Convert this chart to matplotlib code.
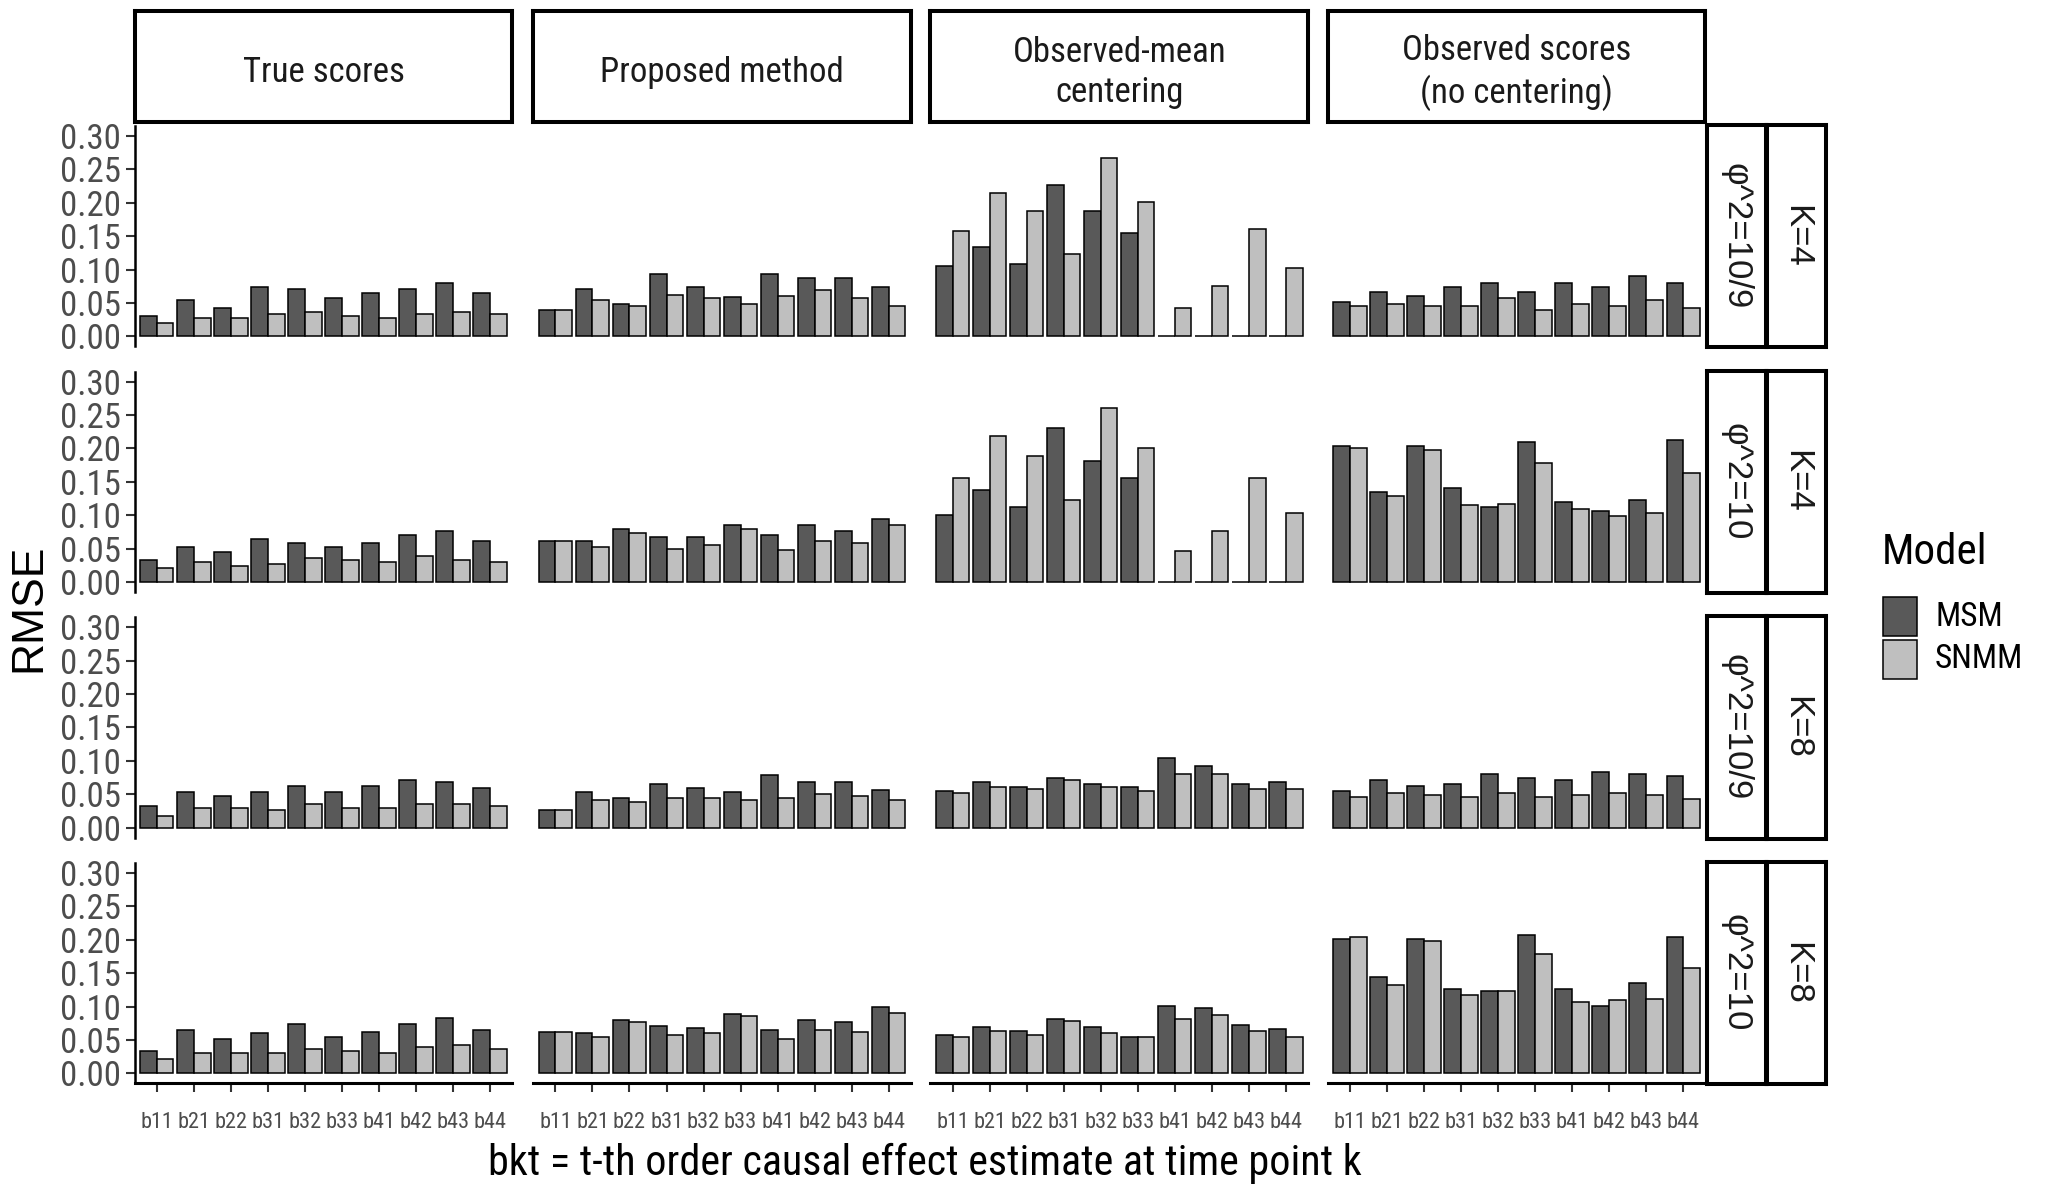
import matplotlib.pyplot as plt
from matplotlib.patches import Rectangle
import numpy as np

effects = ["b11", "b21", "b22", "b31", "b32", "b33", "b41", "b42", "b43", "b44"]
methods = ["True scores", "Proposed method", "Observed-mean\ncentering",
           "Observed scores\n(no centering)"]
phi_labels = ["φ^2=10/9", "φ^2=10", "φ^2=10/9", "φ^2=10"]
k_labels = ["K=4", "K=4", "K=8", "K=8"]
models = ["MSM", "SNMM"]

# row 1: K=4, phi^2=10/9
msm_true_1 = [0.030, 0.054, 0.042, 0.074, 0.071, 0.057, 0.065, 0.071, 0.080, 0.065]
snmm_true_1 = [0.020, 0.027, 0.027, 0.033, 0.036, 0.030, 0.027, 0.033, 0.036, 0.033]
msm_prop_1 = [0.039, 0.071, 0.048, 0.094, 0.074, 0.059, 0.094, 0.088, 0.088, 0.074]
snmm_prop_1 = [0.039, 0.054, 0.045, 0.062, 0.057, 0.048, 0.060, 0.069, 0.057, 0.045]
msm_mean_1 = [0.106, 0.134, 0.109, 0.227, 0.187, 0.155, 0.0, 0.0, 0.0, 0.0]
snmm_mean_1 = [0.157, 0.215, 0.187, 0.123, 0.267, 0.201, 0.042, 0.076, 0.160, 0.103]
msm_obs_1 = [0.051, 0.066, 0.060, 0.074, 0.080, 0.066, 0.080, 0.074, 0.091, 0.080]
snmm_obs_1 = [0.045, 0.048, 0.045, 0.045, 0.057, 0.039, 0.048, 0.045, 0.054, 0.042]

# row 2: K=4, phi^2=10
msm_true_2 = [0.033, 0.053, 0.045, 0.064, 0.059, 0.053, 0.059, 0.070, 0.076, 0.062]
snmm_true_2 = [0.021, 0.030, 0.024, 0.027, 0.036, 0.033, 0.030, 0.039, 0.033, 0.030]
msm_prop_2 = [0.062, 0.062, 0.079, 0.068, 0.068, 0.085, 0.070, 0.085, 0.076, 0.094]
snmm_prop_2 = [0.062, 0.053, 0.073, 0.050, 0.056, 0.079, 0.048, 0.062, 0.059, 0.085]
msm_mean_2 = [0.100, 0.138, 0.112, 0.230, 0.181, 0.155, 0.0, 0.0, 0.0, 0.0]
snmm_mean_2 = [0.155, 0.218, 0.189, 0.123, 0.261, 0.201, 0.046, 0.077, 0.155, 0.103]
msm_obs_2 = [0.204, 0.135, 0.204, 0.141, 0.112, 0.209, 0.120, 0.106, 0.123, 0.212]
snmm_obs_2 = [0.200, 0.129, 0.198, 0.115, 0.116, 0.178, 0.109, 0.098, 0.103, 0.163]

# row 3: K=8, phi^2=10/9
msm_true_3 = [0.033, 0.054, 0.048, 0.054, 0.062, 0.054, 0.062, 0.071, 0.068, 0.060]
snmm_true_3 = [0.018, 0.030, 0.030, 0.026, 0.036, 0.030, 0.030, 0.036, 0.036, 0.033]
msm_prop_3 = [0.027, 0.054, 0.045, 0.065, 0.060, 0.054, 0.079, 0.068, 0.068, 0.057]
snmm_prop_3 = [0.027, 0.042, 0.039, 0.045, 0.045, 0.042, 0.045, 0.051, 0.048, 0.042]
msm_mean_3 = [0.055, 0.069, 0.061, 0.075, 0.066, 0.061, 0.104, 0.092, 0.066, 0.069]
snmm_mean_3 = [0.052, 0.061, 0.058, 0.072, 0.061, 0.055, 0.080, 0.080, 0.058, 0.058]
msm_obs_3 = [0.055, 0.072, 0.063, 0.066, 0.080, 0.075, 0.072, 0.083, 0.080, 0.077]
snmm_obs_3 = [0.046, 0.052, 0.049, 0.046, 0.052, 0.046, 0.049, 0.052, 0.049, 0.043]

# row 4: K=8, phi^2=10
msm_true_4 = [0.034, 0.065, 0.051, 0.060, 0.074, 0.054, 0.062, 0.074, 0.083, 0.065]
snmm_true_4 = [0.022, 0.030, 0.030, 0.030, 0.036, 0.033, 0.030, 0.039, 0.042, 0.036]
msm_prop_4 = [0.062, 0.060, 0.080, 0.071, 0.068, 0.089, 0.065, 0.080, 0.077, 0.100]
snmm_prop_4 = [0.062, 0.054, 0.077, 0.057, 0.060, 0.086, 0.051, 0.065, 0.062, 0.091]
msm_mean_4 = [0.058, 0.069, 0.063, 0.081, 0.069, 0.055, 0.101, 0.098, 0.072, 0.066]
snmm_mean_4 = [0.055, 0.063, 0.058, 0.078, 0.061, 0.055, 0.081, 0.087, 0.063, 0.055]
msm_obs_4 = [0.201, 0.144, 0.201, 0.126, 0.123, 0.207, 0.126, 0.101, 0.135, 0.204]
snmm_obs_4 = [0.204, 0.132, 0.198, 0.118, 0.123, 0.178, 0.107, 0.110, 0.112, 0.158]

msm = [[msm_true_1, msm_prop_1, msm_mean_1, msm_obs_1],
       [msm_true_2, msm_prop_2, msm_mean_2, msm_obs_2],
       [msm_true_3, msm_prop_3, msm_mean_3, msm_obs_3],
       [msm_true_4, msm_prop_4, msm_mean_4, msm_obs_4]]
snmm = [[snmm_true_1, snmm_prop_1, snmm_mean_1, snmm_obs_1],
        [snmm_true_2, snmm_prop_2, snmm_mean_2, snmm_obs_2],
        [snmm_true_3, snmm_prop_3, snmm_mean_3, snmm_obs_3],
        [snmm_true_4, snmm_prop_4, snmm_mean_4, snmm_obs_4]]

fill = {"MSM": "#595959", "SNMM": "#bfbfbf"}
# the reference text is horizontally squeezed, so use a condensed face
narrow = ["Roboto Condensed", "Liberation Sans", "DejaVu Sans"]
regular = ["Liberation Sans", "DejaVu Sans"]

W, H = 2049, 1192
fig = plt.figure(figsize=(W / 100, H / 100), dpi=100)
fig.patch.set_facecolor("white")


def box(l, t, w, h):
    return [l / W, 1 - (t + h) / H, w / W, h / H]


col_left = [134.6, 533.2, 930.4, 1327.7]
col_w = 377.7
row_top = [125.9, 371.5, 617.2, 862.9]
row_h = 220.5

x = np.arange(len(effects))
bw = 0.45

for r in range(4):
    for c in range(4):
        ax = fig.add_axes(box(col_left[c], row_top[r], col_w, row_h))
        ax.bar(x - bw / 2, msm[r][c], width=bw, color=fill["MSM"],
               edgecolor="black", linewidth=1.1)
        ax.bar(x + bw / 2, snmm[r][c], width=bw, color=fill["SNMM"],
               edgecolor="black", linewidth=1.1)
        ax.set_xlim(-0.6, 9.6)
        ax.set_ylim(-0.015, 0.315)
        for s in ax.spines.values():
            s.set_visible(False)
        ax.tick_params(length=6.5, width=1.5, color="#333333")
        if c == 0:
            ax.spines["left"].set_visible(True)
            ax.spines["left"].set_linewidth(1.8)
            ax.set_yticks(np.arange(0, 0.31, 0.05))
            ax.set_yticklabels([f"{v:.2f}" for v in np.arange(0, 0.31, 0.05)],
                               family=narrow, fontsize=25, color="#4d4d4d")
        else:
            ax.set_yticks([])
        if r == 3:
            ax.spines["bottom"].set_visible(True)
            ax.spines["bottom"].set_linewidth(2.2)
            ax.set_xticks(x)
            ax.set_xticklabels(effects, family=narrow, fontsize=16,
                               color="#4d4d4d")
            ax.tick_params(axis="x", pad=14)
        else:
            ax.set_xticks([])

# top strips
for c in range(4):
    sa = fig.add_axes(box(col_left[c], 10.5, col_w, 111))
    sa.set_xticks([])
    sa.set_yticks([])
    for s in sa.spines.values():
        s.set_linewidth(2.9)
    sa.text(0.5, 0.44, methods[c], ha="center", va="center", family=narrow,
            fontsize=25, color="#1a1a1a", linespacing=1.25,
            transform=sa.transAxes)

# right strips
for r in range(4):
    for lab, left in ((phi_labels[r], 1706.7), (k_labels[r], 1766.8)):
        sa = fig.add_axes(box(left, row_top[r] - 1, 58.8, row_h + 2))
        sa.set_xticks([])
        sa.set_yticks([])
        for s in sa.spines.values():
            s.set_linewidth(2.9)
        sa.text(0.5, 0.5, lab, ha="center", va="center", rotation=270,
                family=regular, fontsize=25, color="#1a1a1a",
                transform=sa.transAxes)

# axis titles
fig.text(29 / W, 1 - 608 / H, "RMSE", rotation=90, ha="center", va="center",
         family=regular, fontsize=32, color="black")
fig.text(708 * 1.3068 / W, 1 - 1163 / H,
         "bkt = t-th order causal effect estimate at time point k",
         ha="center", va="center", family=narrow, fontsize=30.3, color="black")

# legend
fig.text(1882 / W, 1 - 553 / H, "Model", ha="left", va="center",
         family=narrow, fontsize=31, color="black")
for i, m in enumerate(models):
    top = 597 + i * 43
    fig.add_artist(Rectangle((1883 / W, 1 - (top + 39) / H), 34 / W, 39 / H,
                             transform=fig.transFigure, facecolor=fill[m],
                             edgecolor="black", linewidth=1.1))
    fig.text(1935 / W, 1 - (top + 19.5) / H, m, ha="left", va="center",
             family=narrow, fontsize=24, color="black")

fig.savefig("out.png", dpi=100, facecolor="white")
